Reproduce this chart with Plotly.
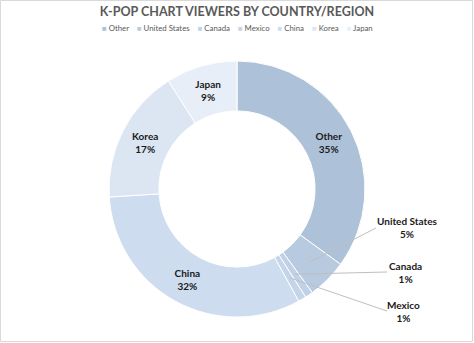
import math
import plotly.graph_objects as go

# ---- data ----
labels = ["Other", "United States", "Canada", "Mexico", "China", "Korea", "Japan"]
values = [35, 5, 1, 1, 32, 17, 9]
colors = ["#adc1d9", "#b8cae0", "#c0d1e7", "#c4d5ea", "#cddcef", "#dce6f3", "#e8eef7"]
outside_labels = ["United States", "Canada", "Mexico"]

# ---- layout constants (pixels) ----
W, H = 474, 343
M_T, M_B = 61, 26
PH = H - M_T - M_B          # plot height = 256
CX, CY = W / 2, M_T + PH / 2
R_OUT = PH / 2
HOLE = 0.61
R_MID = R_OUT * (1 + HOLE) / 2

FONT = "Lato"
LABEL_COLOR = "#1a1a1a"
GRAY = "#595959"
LINE = "#bfbfbf"


def px_to_paper(px, py):
    return px / W, (H - M_B - py) / PH


texts = ["" if l in outside_labels else "<b>%{label}</b><br><b>%{percent}</b>" for l in labels]

fig = go.Figure(go.Pie(
    labels=labels,
    values=values,
    hole=HOLE,
    sort=False,
    direction="clockwise",
    rotation=0,
    marker=dict(colors=colors, line=dict(color="white", width=1)),
    texttemplate=texts,
    textposition="inside",
    insidetextorientation="horizontal",
    insidetextfont=dict(family=FONT, size=10, color=LABEL_COLOR),
    showlegend=False,
    hoverinfo="label+percent",
))

# ---- outside labels with leader lines (anchored at slice mid-angle from data) ----
label_pos = {  # pixel positions of label text centres and leader-line ends
    "United States": ((407, 227), (376, 228)),
    "Canada": ((405, 272), (387, 272)),
    "Mexico": ((403, 311), (387, 311)),
}
total = sum(values)
cum = 0
shapes = []
annotations = []
for lab, v in zip(labels, values):
    mid = (cum + v / 2) / total * 2 * math.pi
    cum += v
    if lab not in outside_labels:
        continue
    tx = CX + R_MID * math.sin(mid)
    ty = CY - R_MID * math.cos(mid)
    (lx, ly), (ex, ey) = label_pos[lab]
    x0, y0 = px_to_paper(tx, ty)
    x1, y1 = px_to_paper(ex, ey)
    shapes.append(dict(type="line", xref="paper", yref="paper", x0=x0, y0=y0, x1=x1, y1=y1,
                       line=dict(color=LINE, width=1)))
    ax, ay = px_to_paper(lx, ly)
    pct = round(v / total * 100)
    annotations.append(dict(x=ax, y=ay, xref="paper", yref="paper", showarrow=False,
                            text=f"<b>{lab}</b><br><b>{pct}%</b>",
                            font=dict(family=FONT, size=10, color=LABEL_COLOR),
                            xanchor="center", yanchor="middle"))

# ---- legend (colored squares + names) ----
sep = "\u00a0" * 4
legend_txt = sep.join(
    f"<span style='color:{c}'>\u25a0</span>\u00a0{l}" for l, c in zip(labels, colors)
)
lgx, lgy = px_to_paper(W / 2, 28)
annotations.append(dict(x=lgx, y=lgy, xref="paper", yref="paper", showarrow=False,
                        text=legend_txt, font=dict(family=FONT, size=7.8, color=GRAY),
                        xanchor="center", yanchor="middle"))

# chart-area border
bx0, by0 = px_to_paper(0.5, H - 1.5)
bx1, by1 = px_to_paper(W - 1.5, 0.5)
shapes.append(dict(type="rect", xref="paper", yref="paper", x0=bx0, y0=by0, x1=bx1, y1=by1,
                   line=dict(color="#d9d9d9", width=1), layer="below"))

fig.update_layout(
    width=W, height=H,
    margin=dict(l=0, r=0, t=M_T, b=M_B),
    paper_bgcolor="white",
    title=dict(text="<b>K-POP CHART VIEWERS BY COUNTRY/REGION</b>",
               font=dict(family=FONT, size=12.5, color=GRAY),
               x=0.5, xanchor="center", y=1 - 12 / H, yanchor="middle"),
    shapes=shapes,
    annotations=annotations,
)

fig.write_html("out.html")
